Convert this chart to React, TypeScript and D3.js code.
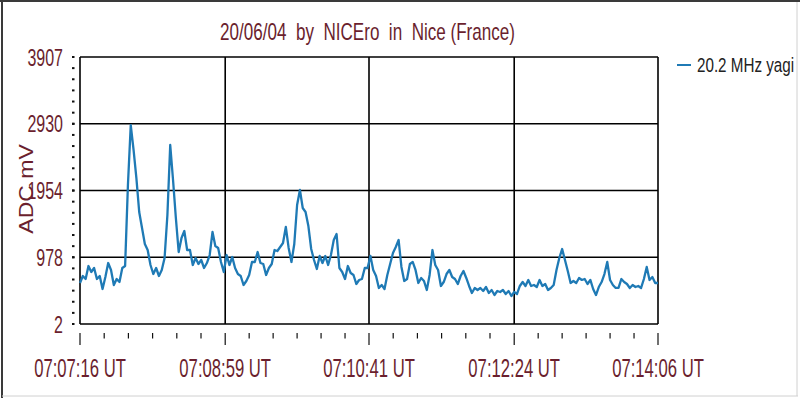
import React from "react";
import * as d3 from "d3";

const title = "20/06/04  by  NICEro  in  Nice (France)";
const yAxisTitle = "ADC mV";
const seriesName = "20.2 MHz yagi";

const timeTickSeconds = [0, 103, 205, 308, 410];
const timeTickLabels = ["07:07:16 UT", "07:08:59 UT", "07:10:41 UT", "07:12:24 UT", "07:14:06 UT"];
const yTickValues = [2, 978, 1954, 2930, 3907];

// sample interval: 2 s, starting at 07:07:16
const sampleStep = 2;
const adcValues = [
  602, 704, 660, 850, 763, 821, 660, 704, 514, 689,
  894, 792, 572, 660, 616, 821, 850, 2035, 2912, 2547,
  2137, 1640, 1406, 1172, 1084, 865, 733, 821, 704, 792,
  967, 1596, 2620, 2108, 1552, 1055, 1260, 1362, 1084, 1084,
  865, 967, 880, 938, 821, 894, 1011, 1348, 1143, 1114,
  909, 763, 1011, 865, 982, 821, 733, 704, 572, 631,
  719, 909, 909, 1055, 894, 880, 719, 821, 880, 1084,
  1070, 1128, 1187, 1421, 1114, 909, 1172, 1742, 1962, 1699,
  1640, 1435, 1099, 938, 806, 997, 894, 997, 865, 1011,
  1231, 1318, 821, 763, 660, 850, 748, 719, 587, 646,
  660, 821, 821, 997, 792, 704, 529, 572, 514, 719,
  880, 1040, 1128, 1231, 836, 631, 660, 880, 909, 792,
  602, 675, 631, 499, 719, 1084, 865, 792, 558, 616,
  733, 792, 689, 660, 587, 704, 777, 675, 558, 455,
  529, 499, 529, 485, 543, 455, 499, 426, 485, 470,
  499, 441, 485, 412, 470, 441, 558, 616, 558, 646,
  558, 572, 543, 646, 558, 587, 499, 529, 572, 792,
  967, 1099, 938, 777, 602, 631, 602, 675, 646, 660,
  587, 646, 514, 426, 543, 616, 733, 909, 646, 572,
  529, 529, 660, 616, 587, 529, 572, 543, 558, 529,
  660, 836, 646, 689, 602, 602,
];

const W = 800;
const H = 398;
const plot = { left: 80, right: 658, top: 57, bottom: 324 };
const maroon = "#6b1f2e";
const lineBlue = "#1f7ab5";
const font = "'Liberation Sans', Arial, sans-serif";
const squeeze = 0.667;

export default function App() {
  const x = d3.scaleLinear().domain([0, 410]).range([plot.left, plot.right]);
  const y = d3.scaleLinear().domain([2, 3907]).range([plot.bottom, plot.top]);

  const line = d3
    .line<number>()
    .x((_, i) => x(i * sampleStep))
    .y((d) => y(d));

  const minorX: number[] = [];
  for (let k = 0; k < timeTickSeconds.length - 1; k++) {
    const a = timeTickSeconds[k];
    const b = timeTickSeconds[k + 1];
    d3.range(1, 6).forEach((j) => minorX.push(a + ((b - a) * j) / 6));
  }
  const minorY: number[] = [];
  for (let k = 0; k < yTickValues.length - 1; k++) {
    const a = yTickValues[k];
    const b = yTickValues[k + 1];
    d3.range(0, 7).forEach((j) => minorY.push(a + ((b - a) * j) / 6));
  }

  return (
    <svg
      width={W}
      height={H}
      style={{ position: "absolute", left: 0, top: 0, background: "#fff" }}
      fontFamily={font}
    >
      {/* window frame */}
      <line x1={0} y1={1} x2={W} y2={1} stroke="#3a3a3a" strokeWidth={2} />
      <line x1={2} y1={0} x2={2} y2={H} stroke="#3a3a3a" strokeWidth={2} />
      <line x1={797} y1={2} x2={797} y2={396} stroke="#d0d0d0" strokeWidth={1} />
      <line x1={2} y1={396} x2={798} y2={396} stroke="#d0d0d0" strokeWidth={1} />

      {/* title */}
      <text
        x={220}
        y={40}
        textLength={295}
        lengthAdjust="spacingAndGlyphs"
        fontSize={24}
        fill={maroon}
        xmlSpace="preserve"
      >
        {title}
      </text>

      {/* horizontal grid */}
      {yTickValues.map((v) => (
        <line key={"gy" + v} x1={plot.left} x2={plot.right} y1={y(v)} y2={y(v)} stroke="#000" strokeWidth={1.6} />
      ))}
      {/* vertical grid */}
      {timeTickSeconds.map((t) => (
        <line key={"gx" + t} x1={x(t)} x2={x(t)} y1={plot.top} y2={plot.bottom} stroke="#000" strokeWidth={1.6} />
      ))}

      {/* data line */}
      <path d={line(adcValues) || ""} fill="none" stroke={lineBlue} strokeWidth={2.3} strokeLinejoin="round" />

      {/* y minor ticks */}
      {minorY.map((v, i) => (
        <rect key={"my" + i} x={72} y={y(v) - 1} width={2.5} height={2} fill="#111" />
      ))}
      {/* y labels */}
      {yTickValues.map((v) => (
        <text
          key={"yl" + v}
          transform={`translate(63,${y(v) + 8.5}) scale(${squeeze},1)`}
          textAnchor="end"
          fontSize={24}
          fill={maroon}
        >
          {v}
        </text>
      ))}

      {/* x ticks */}
      {timeTickSeconds.map((t) => (
        <line key={"tx" + t} x1={x(t)} x2={x(t)} y1={333} y2={345} stroke="#111" strokeWidth={1.2} />
      ))}
      {minorX.map((t, i) => (
        <line key={"mx" + i} x1={x(t)} x2={x(t)} y1={333} y2={338.5} stroke="#111" strokeWidth={1.2} />
      ))}
      {timeTickLabels.map((label, i) => (
        <text
          key={"xl" + label}
          transform={`translate(${x(timeTickSeconds[i])},377) scale(${squeeze},1)`}
          textAnchor="middle"
          fontSize={25}
          fill={maroon}
        >
          {label}
        </text>
      ))}

      {/* y axis title */}
      <text
        transform="translate(33,189) rotate(-90) scale(1,0.9)"
        textAnchor="middle"
        fontSize={23}
        fill={maroon}
      >
        {yAxisTitle}
      </text>

      {/* legend */}
      <line x1={677} x2={691} y1={65} y2={65} stroke={lineBlue} strokeWidth={2} />
      <text transform="translate(697,72) scale(0.78,1)" fontSize={19.5} fill="#222">
        {seriesName}
      </text>
    </svg>
  );
}
